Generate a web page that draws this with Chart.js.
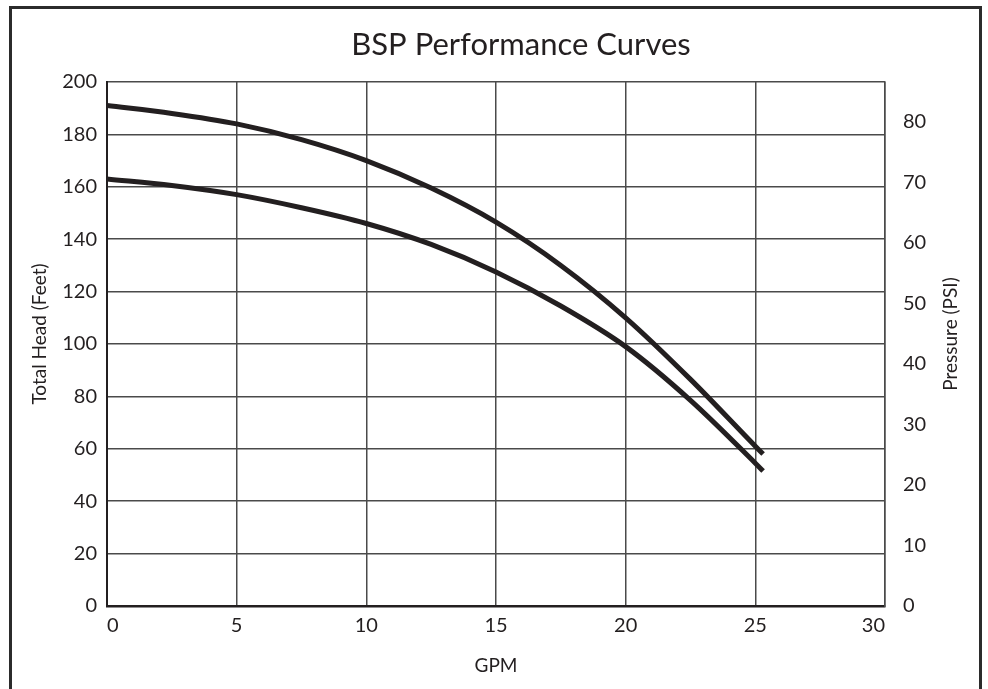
<!DOCTYPE html>
<html>
<head>
<meta charset="utf-8">
<script src="https://cdn.jsdelivr.net/npm/chart.js@4"></script>
<style>
    html, body { margin: 0; padding: 0; background: #fff; }
    #wrap { position: relative; width: 988px; height: 689px; }
    #frame {
        position: absolute; left: 9px; top: 6px; width: 967px; height: 700px;
        border: 3px solid #2b2b2b; border-bottom: none; pointer-events: none;
    }
    canvas { position: absolute; left: 0; top: 0; }
</style>
</head>
<body>
<div id="wrap">
    <canvas id="curveChart" width="988" height="689"></canvas>
    <div id="frame"></div>
</div>
<script>
// values
const gpm = [0, 2.5, 5, 7.5, 10, 12.5, 15, 17.5, 20, 22.5, 25, 25.3];
const upperHead = [191, 188, 184, 178, 170, 159.5, 146.5, 130, 110, 86.5, 61, 58];
const lowerHead = [163, 160.5, 157, 152, 146, 138, 127.5, 114.5, 99, 78.5, 54.5, 51.5];
const headTicks = [0, 20, 40, 60, 80, 100, 120, 140, 160, 180, 200];
const psiTicks = [0, 10, 20, 30, 40, 50, 60, 70, 80];
const gpmTicks = [0, 5, 10, 15, 20, 25, 30];

const chartTitle = "BSP Performance Curves";
const leftTitle = "Total Head (Feet)";
const rightTitle = "Pressure (PSI)";

const FONT = "Lato, 'Noto Sans', sans-serif";
const INK = "#231f20";
const GRID = "#4a4a4a";

function toPoints(ys) {
    return gpm.map((x, i) => ({ x: x, y: ys[i] }));
}

// title and both vertical axis titles read bottom-to-top, so draw them here
const titlesPlugin = {
    id: "titles",
    afterDraw(chart) {
        const ctx = chart.ctx;
        const area = chart.chartArea;
        const midY = (area.top + area.bottom) / 2 - 10;
        ctx.save();
        ctx.fillStyle = INK;
        ctx.textAlign = "center";
        ctx.textBaseline = "middle";
        ctx.font = "31px " + FONT;
        ctx.fillText(chartTitle, area.left + (area.right - area.left) / 2 + 25, 45);

        ctx.font = "19px " + FONT;
        ctx.translate(40, midY);
        ctx.rotate(-Math.PI / 2);
        ctx.fillText(leftTitle, 0, 0);
        ctx.restore();

        ctx.save();
        ctx.fillStyle = INK;
        ctx.textAlign = "center";
        ctx.textBaseline = "middle";
        ctx.font = "19px " + FONT;
        ctx.translate(951, midY);
        ctx.rotate(-Math.PI / 2);
        ctx.fillText(rightTitle, 0, 0);
        ctx.restore();
    }
};

const curveStyle = {
    borderColor: INK,
    borderWidth: 5,
    pointRadius: 0,
    fill: false,
    cubicInterpolationMode: "monotone",
    borderCapStyle: "butt",
};

new Chart(document.getElementById("curveChart"), {
    type: "line",
    data: {
        datasets: [
            { label: "Upper", data: toPoints(upperHead), ...curveStyle },
            { label: "Lower", data: toPoints(lowerHead), ...curveStyle },
        ]
    },
    options: {
        responsive: false,
        animation: false,
        layout: { padding: { left: 18, right: 20, top: 82, bottom: 0 } },
        plugins: {
            legend: { display: false },
            tooltip: { enabled: false },
        },
        scales: {
            x: {
                type: "linear",
                min: 0,
                max: 30,
                afterBuildTicks: (s) => { s.ticks = gpmTicks.map(v => ({ value: v })); },
                afterFit: (s) => { s.height = 83; },
                grid: { color: GRID, lineWidth: 1.5, drawTicks: false },
                border: { color: INK, width: 2.5 },
                ticks: {
                    color: INK,
                    align: "inner",
                    padding: 8,
                    font: { family: FONT, size: 20 },
                },
                title: {
                    display: true,
                    text: "GPM",
                    color: INK,
                    font: { family: FONT, size: 19 },
                    padding: { top: 0, bottom: 12 },
                },
            },
            y: {
                position: "left",
                min: 0,
                max: 200,
                afterBuildTicks: (s) => { s.ticks = headTicks.map(v => ({ value: v })); },
                afterFit: (s) => { s.width = 89; },
                grid: { color: GRID, lineWidth: 1.5, drawTicks: false },
                border: { color: INK, width: 2 },
                ticks: {
                    color: INK,
                    padding: 10,
                    font: { family: FONT, size: 20 },
                },
            },
            psi: {
                position: "right",
                min: 0,
                max: 200 / 2.31,
                afterBuildTicks: (s) => { s.ticks = psiTicks.map(v => ({ value: v })); },
                afterFit: (s) => { s.width = 83; },
                grid: { display: false, drawTicks: false },
                border: { color: GRID, width: 1.5 },
                ticks: {
                    color: INK,
                    padding: 18,
                    font: { family: FONT, size: 20 },
                },
            },
        },
    },
    plugins: [titlesPlugin],
});
</script>
</body>
</html>
